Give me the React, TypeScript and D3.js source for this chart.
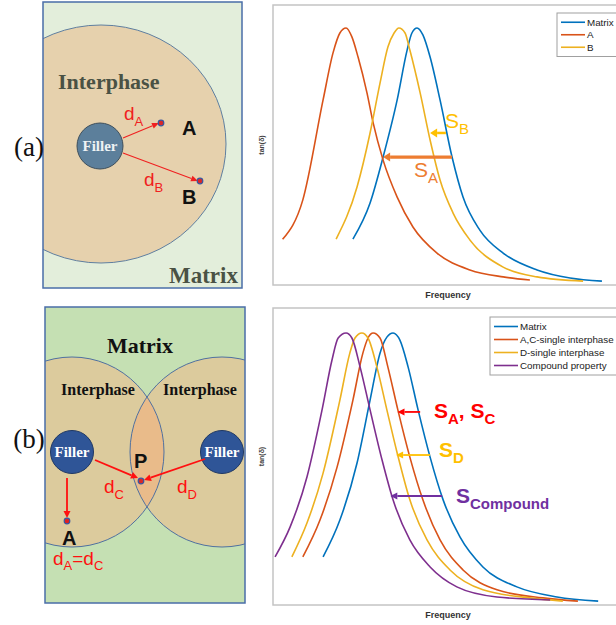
import React from "react";
import * as d3 from "d3";

const W = 616;
const H = 625;

// ---- data: tan(delta) vs frequency (arbitrary units) ----
const topMatrix: [number, number][] = [
  [23.3, 0.164], [28.3, 0.293], [32.1, 0.457], [36.2, 0.661], [39.1, 0.839], [40.5, 0.9], [42.0, 0.918],
  [43.7, 0.893], [45.8, 0.814], [48.7, 0.661], [52.2, 0.457], [55.4, 0.314], [60.3, 0.196], [67.1, 0.114],
  [77.0, 0.054], [86.6, 0.025], [95.9, 0.014],
];
const topA: [number, number][] = [
  [2.8, 0.163], [8.7, 0.304], [14.6, 0.661], [17.5, 0.829], [19.5, 0.9], [21.3, 0.918], [23.0, 0.886],
  [24.8, 0.814], [27.4, 0.686], [29.2, 0.579], [32.1, 0.446], [36.2, 0.314], [40.8, 0.207], [47.8, 0.114],
  [57.4, 0.054], [67.1, 0.029], [74.9, 0.018],
];
const topB: [number, number][] = [
  [18.4, 0.164], [24.5, 0.35], [28.3, 0.543], [31.2, 0.721], [33.5, 0.85], [35.3, 0.9], [36.7, 0.918],
  [38.5, 0.9], [39.9, 0.839], [42.9, 0.686], [45.8, 0.518], [48.7, 0.375], [52.5, 0.257], [57.4, 0.161],
  [67.1, 0.064], [77.0, 0.029], [90.4, 0.014],
];

const botMatrix: [number, number][] = [
  [14.6, 0.162], [19.5, 0.286], [24.5, 0.478], [28.3, 0.69], [31.2, 0.848], [33.2, 0.902], [35.0, 0.916],
  [37.0, 0.892], [39.4, 0.801], [42.3, 0.657], [45.8, 0.498], [49.6, 0.354], [54.5, 0.229], [61.2, 0.128],
  [71.1, 0.061], [82.8, 0.027], [94.8, 0.013],
];
const botAC: [number, number][] = [
  [8.7, 0.162], [13.7, 0.286], [18.7, 0.465], [23.3, 0.69], [26.2, 0.848], [27.7, 0.899], [29.2, 0.916],
  [31.2, 0.899], [33.5, 0.801], [36.4, 0.657], [39.9, 0.498], [43.7, 0.354], [48.7, 0.219], [55.4, 0.118],
  [65.3, 0.051], [78.7, 0.024], [88.9, 0.013],
];
const botD: [number, number][] = [
  [5.5, 0.162], [9.9, 0.276], [14.6, 0.444], [19.5, 0.69], [22.4, 0.848], [23.9, 0.899], [25.9, 0.916],
  [27.7, 0.899], [30.3, 0.801], [33.2, 0.657], [36.2, 0.512], [39.9, 0.354], [44.9, 0.219], [51.6, 0.118],
  [61.2, 0.051], [74.9, 0.024], [84.5, 0.013],
];
const botCompound: [number, number][] = [
  [0.6, 0.162], [5.0, 0.263], [9.9, 0.431], [14.3, 0.657], [17.2, 0.825], [19.0, 0.899], [21.3, 0.916],
  [23.0, 0.899], [25.4, 0.801], [28.3, 0.657], [31.8, 0.488], [35.0, 0.354], [39.9, 0.219], [45.8, 0.128],
  [53.6, 0.061], [65.3, 0.027], [80.8, 0.017],
];

const topLegend = ["Matrix", "A", "B"];
const botLegend = ["Matrix", "A,C-single interphase", "D-single interphase", "Compound property"];

// shift arrows: [fromX, toX, y]
const topArrows: [number, number, number][] = [
  [50.4, 45.8, 0.543],
  [52.2, 32.1, 0.457],
];
const botArrows: [number, number, number][] = [
  [42.9, 36.3, 0.65],
  [45.8, 35.9, 0.505],
  [49.3, 34.2, 0.367],
];

const BLUE = "#0072BD";
const ORANGE = "#D95319";
const YELLOW = "#EDB120";
const PURPLE = "#7E2F8E";

const SANS = "'Liberation Sans', Arial, sans-serif";
const SERIF = "'Liberation Serif', 'Times New Roman', serif";

function Arrow({ x1, y1, x2, y2, color, width, head, hw }: any) {
  const a = Math.atan2(y2 - y1, x2 - x1);
  const bx = x2 - head * Math.cos(a);
  const by = y2 - head * Math.sin(a);
  const px = -Math.sin(a) * hw;
  const py = Math.cos(a) * hw;
  return (
    <g>
      <line x1={x1} y1={y1} x2={bx} y2={by} stroke={color} strokeWidth={width} />
      <polygon points={`${x2},${y2} ${bx + px},${by + py} ${bx - px},${by - py}`} fill={color} />
    </g>
  );
}

function Sub({ x, y, main, sub, color, size, subSize, weight, tail }: any) {
  return (
    <text x={x} y={y} fill={color} fontFamily={SANS} fontSize={size} fontWeight={weight || "normal"}>
      {main}
      <tspan fontSize={subSize} dy={size * 0.3}>{sub}</tspan>
      {tail}
    </text>
  );
}

function Spectrum({ top, bottom, series, colors, legend, legendBox, arrows, arrowColors, arrowWidth }: any) {
  const x = d3.scaleLinear().domain([0, 100]).range([273, 616]);
  const y = d3.scaleLinear().domain([0, 1]).range([bottom, top]);
  const line = d3
    .line<[number, number]>()
    .x((d) => x(d[0]))
    .y((d) => y(d[1]))
    .curve(d3.curveMonotoneX);
  const [lx, ly, lw, rowH] = legendBox;
  return (
    <g>
      <rect x={273} y={top} width={350} height={bottom - top} fill="#fff" stroke="#c4c4c4" strokeWidth={1.5} />
      {series.map((s: [number, number][], i: number) => (
        <path key={i} d={line(s) || ""} fill="none" stroke={colors[i]} strokeWidth={1.6} />
      ))}
      {arrows.map((a: [number, number, number], i: number) => (
        <Arrow
          key={i}
          x1={x(a[0])}
          y1={y(a[2])}
          x2={x(a[1])}
          y2={y(a[2])}
          color={arrowColors[i]}
          width={arrowWidth[i]}
          head={7}
          hw={arrowWidth[i] > 2 ? 4.5 : 3.5}
        />
      ))}
      <rect x={lx} y={ly} width={lw} height={legend.length * rowH + 6} fill="#fff" stroke="#a0a0a0" strokeWidth={1} />
      {legend.map((l: string, i: number) => {
        const cy = ly + 3 + rowH * (i + 0.5);
        return (
          <g key={l}>
            <line x1={lx + 4} x2={lx + 28} y1={cy} y2={cy} stroke={colors[i]} strokeWidth={1.6} />
            <text x={lx + 30} y={cy + 3.5} fontFamily={SANS} fontSize={9.8} fill="#222">
              {l}
            </text>
          </g>
        );
      })}
      <text x={448} y={bottom + 13} textAnchor="middle" fontFamily={SANS} fontSize={9} fontWeight="bold" fill="#333">
        Frequency
      </text>
      <text
        transform={`translate(264,${(top + bottom) / 2}) rotate(-90)`}
        textAnchor="middle"
        fontFamily={SANS}
        fontSize={7}
        fontWeight="bold"
        fill="#444"
      >
        tan(δ)
      </text>
    </g>
  );
}

function DiagramA() {
  return (
    <g>
      <defs>
        <clipPath id="clipA">
          <rect x={43} y={2} width={199} height={286} />
        </clipPath>
      </defs>
      <rect x={43} y={2} width={199} height={286} fill="#e3eedb" />
      <ellipse cx={101} cy={144} rx={125} ry={119} fill="#e6d1ad" stroke="#5f7fa0" strokeWidth={1} clipPath="url(#clipA)" />
      <rect x={43} y={2} width={199} height={286} fill="none" stroke="#4a6ea8" strokeWidth={1.5} />
      <text x={58} y={89} fontFamily={SERIF} fontWeight="bold" fontSize={22} fill="#4a5244">Interphase</text>
      <text x={169} y={283} fontFamily={SERIF} fontWeight="bold" fontSize={23} fill="#4a5244">Matrix</text>
      <circle cx={100} cy={146} r={23} fill="#5c7f9b" stroke="#3e4f5c" strokeWidth={1} />
      <text x={100} y={151} textAnchor="middle" fontFamily={SERIF} fontWeight="bold" fontSize={15} fill="#eef2f4">Filler</text>
      <Arrow x1={123} y1={138} x2={159} y2={123} color="#f02020" width={1.1} head={7} hw={3} />
      <Arrow x1={123} y1={153} x2={198} y2={181} color="#f02020" width={1.1} head={7} hw={3} />
      <circle cx={161} cy={123} r={2.8} fill="#d82828" stroke="#3a56a0" strokeWidth={1.2} />
      <circle cx={200} cy={181} r={2.8} fill="#d82828" stroke="#3a56a0" strokeWidth={1.2} />
      <Sub x={124} y={120} main="d" sub="A" color="#f02020" size={19} subSize={13} />
      <Sub x={144} y={186} main="d" sub="B" color="#f02020" size={19} subSize={13} />
      <text x={182} y={135} fontFamily={SANS} fontWeight="bold" fontSize={20} fill="#111">A</text>
      <text x={182} y={204} fontFamily={SANS} fontWeight="bold" fontSize={20} fill="#111">B</text>
      <text x={29} y={156} textAnchor="middle" fontFamily={SERIF} fontSize={27} fill="#111">(a)</text>
    </g>
  );
}

function DiagramB() {
  return (
    <g>
      <defs>
        <clipPath id="clipB">
          <rect x={45} y={307} width={200} height={296} />
        </clipPath>
        <clipPath id="clipLens">
          <ellipse cx={72} cy={452} rx={92} ry={95} />
        </clipPath>
      </defs>
      <rect x={45} y={307} width={200} height={296} fill="#c5e0b3" />
      <g clipPath="url(#clipB)">
        <ellipse cx={72} cy={452} rx={92} ry={95} fill="#dccb9d" />
        <ellipse cx={222} cy={452} rx={92} ry={95} fill="#dccb9d" />
        <ellipse cx={222} cy={452} rx={92} ry={95} fill="#e9bb8a" clipPath="url(#clipLens)" />
        <ellipse cx={72} cy={452} rx={92} ry={95} fill="none" stroke="#4f70a0" strokeWidth={1} />
        <ellipse cx={222} cy={452} rx={92} ry={95} fill="none" stroke="#4f70a0" strokeWidth={1} />
      </g>
      <rect x={45} y={307} width={200} height={296} fill="none" stroke="#4a6ea8" strokeWidth={1.5} />
      <text x={140} y={353} textAnchor="middle" fontFamily={SERIF} fontWeight="bold" fontSize={22} fill="#111">Matrix</text>
      <text x={98} y={395} textAnchor="middle" fontFamily={SERIF} fontWeight="bold" fontSize={16} fill="#111">Interphase</text>
      <text x={200} y={395} textAnchor="middle" fontFamily={SERIF} fontWeight="bold" fontSize={16} fill="#111">Interphase</text>
      <circle cx={72} cy={452} r={21.5} fill="#2f5597" stroke="#1f3864" strokeWidth={1} />
      <circle cx={222} cy={452} r={21.5} fill="#2f5597" stroke="#1f3864" strokeWidth={1} />
      <text x={72} y={457} textAnchor="middle" fontFamily={SERIF} fontWeight="bold" fontSize={15} fill="#fff">Filler</text>
      <text x={222} y={457} textAnchor="middle" fontFamily={SERIF} fontWeight="bold" fontSize={15} fill="#fff">Filler</text>
      <Arrow x1={95} y1={460} x2={138} y2={478} color="#ff1010" width={1.8} head={7} hw={3.5} />
      <Arrow x1={205} y1={459} x2={144} y2={480} color="#ff1010" width={1.8} head={7} hw={3.5} />
      <Arrow x1={67} y1={478} x2={67} y2={518} color="#ff1010" width={1.8} head={7} hw={3.5} />
      <circle cx={141} cy={481} r={2.8} fill="#d82828" stroke="#3a56a0" strokeWidth={1.2} />
      <circle cx={67} cy={521} r={2.8} fill="#e02020" stroke="#3a56a0" strokeWidth={1.2} />
      <text x={134} y={468} fontFamily={SANS} fontWeight="bold" fontSize={20} fill="#111">P</text>
      <text x={62} y={545} fontFamily={SANS} fontWeight="bold" fontSize={20} fill="#111">A</text>
      <Sub x={104} y={493} main="d" sub="C" color="#ff1010" size={19} subSize={13} />
      <Sub x={177} y={493} main="d" sub="D" color="#ff1010" size={19} subSize={13} />
      <text x={53} y={565} fontFamily={SANS} fontSize={19} fill="#ff1010">
        d<tspan fontSize={13} dy={5}>A</tspan>
        <tspan dy={-5}>=d</tspan>
        <tspan fontSize={13} dy={5}>C</tspan>
      </text>
      <text x={29} y={448} textAnchor="middle" fontFamily={SERIF} fontSize={27} fill="#111">(b)</text>
    </g>
  );
}

export default function App() {
  return (
    <div style={{ position: "absolute", left: 0, top: 0 }}>
      <svg width={W} height={H} viewBox={`0 0 ${W} ${H}`} style={{ display: "block", background: "#fff" }}>
        <DiagramA />
        <DiagramB />
        <Spectrum
          top={5}
          bottom={285}
          series={[topMatrix, topA, topB]}
          colors={[BLUE, ORANGE, YELLOW]}
          legend={topLegend}
          legendBox={[557, 13, 66, 12.5]}
          arrows={topArrows}
          arrowColors={["#ffc000", "#ed7d31"]}
          arrowWidth={[2.5, 3.2]}
        />
        <Sub x={445} y={128} main="S" sub="B" color="#ffc000" size={21} subSize={15} />
        <Sub x={414} y={177} main="S" sub="A" color="#ed7d31" size={21} subSize={15} />
        <Spectrum
          top={308}
          bottom={605}
          series={[botMatrix, botAC, botD, botCompound]}
          colors={[BLUE, ORANGE, YELLOW, PURPLE]}
          legend={botLegend}
          legendBox={[490, 317, 133, 13]}
          arrows={botArrows}
          arrowColors={["#ff0000", "#ffc000", "#7030a0"]}
          arrowWidth={[1.8, 1.8, 1.8]}
        />
        <Sub x={434} y={418} main="S" sub="A" tail={<tspan dy={-6.3}>, S<tspan fontSize={15} dy={6.3}>C</tspan></tspan>} color="#ff0000" size={21} subSize={15} weight="bold" />
        <Sub x={439} y={457} main="S" sub="D" color="#ffc000" size={21} subSize={15} weight="bold" />
        <Sub x={456} y={503} main="S" sub="Compound" color="#7030a0" size={21} subSize={15} weight="bold" />
      </svg>
    </div>
  );
}
